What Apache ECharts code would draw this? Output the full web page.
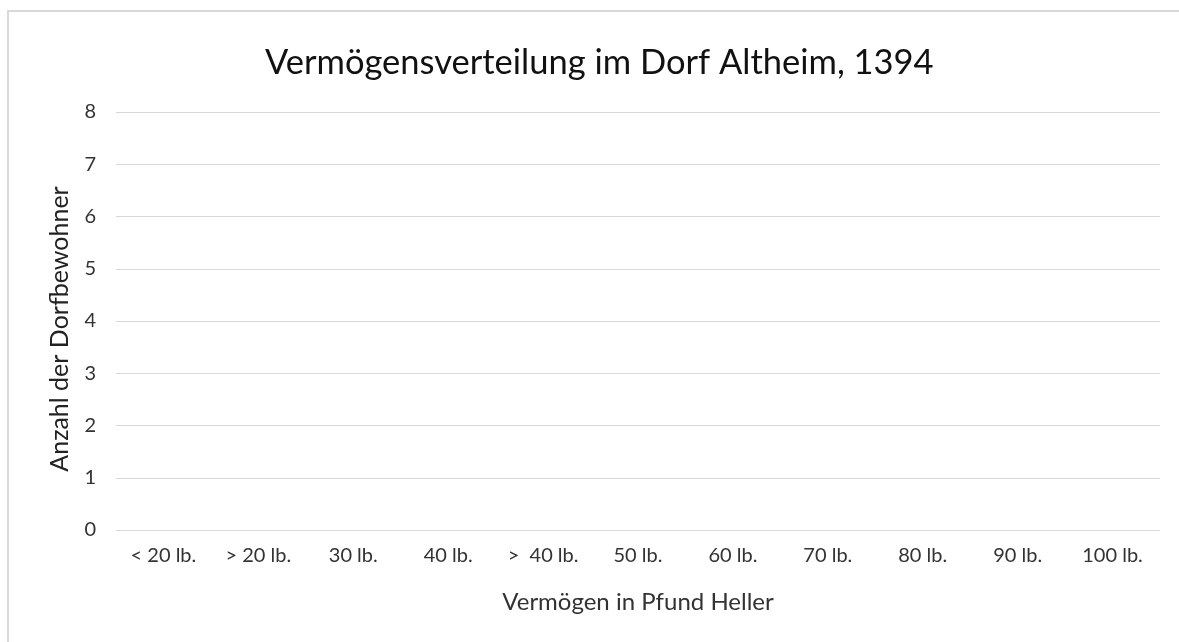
<!DOCTYPE html>
<html>
<head>
<meta charset="utf-8">
<script src="https://cdn.jsdelivr.net/npm/echarts@6/dist/echarts.min.js"></script>
<style>
html, body { margin: 0; padding: 0; background: #fff; overflow: hidden; }
#frame { position: absolute; left: 7px; top: 10px; width: 1300px; height: 800px; border: 2px solid #d9d9d9; }
#chart { position: absolute; left: 0; top: 0; width: 1179px; height: 642px; }
</style>
</head>
<body>
<div id="frame"></div>
<div id="chart"></div>
<script>
// Kategorien (Vermögensklassen)
var categories = ['< 20 lb.', '> 20 lb.', '30 lb.', '40 lb.', '>  40 lb.', '50 lb.', '60 lb.', '70 lb.', '80 lb.', '90 lb.', '100 lb.'];
// Anzahl der Dorfbewohner - im Bild keine Balken sichtbar
var einwohner = [0, 0, 0, 0, 0, 0, 0, 0, 0, 0, 0];
var yTicks = [0, 1, 2, 3, 4, 5, 6, 7, 8];

var fontName = 'Lato';

var option = {
    animation: false,
    backgroundColor: 'transparent',
    title: {
        text: 'Vermögensverteilung im Dorf Altheim, 1394',
        left: 260,
        top: 40,
        textStyle: {
            fontFamily: fontName,
            fontSize: 34.5,
            fontWeight: 'normal',
            color: '#111'
        }
    },
    grid: {
        left: 116,
        right: 19,
        top: 112,
        bottom: 112
    },
    xAxis: {
        type: 'category',
        data: categories,
        name: 'Vermögen in Pfund Heller',
        nameLocation: 'middle',
        nameGap: 60,
        nameTextStyle: { fontFamily: fontName, fontSize: 24, color: '#333' },
        axisLine: { show: false },
        axisTick: { show: false },
        axisLabel: { fontFamily: fontName, fontSize: 20, color: '#333', margin: 16 }
    },
    yAxis: {
        type: 'value',
        min: yTicks[0],
        max: yTicks[yTicks.length - 1],
        interval: 1,
        name: 'Anzahl der Dorfbewohner',
        nameLocation: 'middle',
        nameGap: 44,
        nameTextStyle: { fontFamily: fontName, fontSize: 25, color: '#222', padding: [0, 16, 0, 0] },
        axisLine: { show: false },
        axisTick: { show: false },
        axisLabel: { fontFamily: fontName, fontSize: 20, color: '#333', margin: 20 },
        splitLine: { lineStyle: { color: '#d9d9d9', width: 1 } }
    },
    series: [{
        name: 'Anzahl',
        type: 'bar',
        barWidth: '60%',
        itemStyle: { color: '#4472c4' },
        data: einwohner
    }]
};

var chart = echarts.init(document.getElementById('chart'));
chart.setOption(option);
window.onresize = chart.resize;
</script>
</body>
</html>
